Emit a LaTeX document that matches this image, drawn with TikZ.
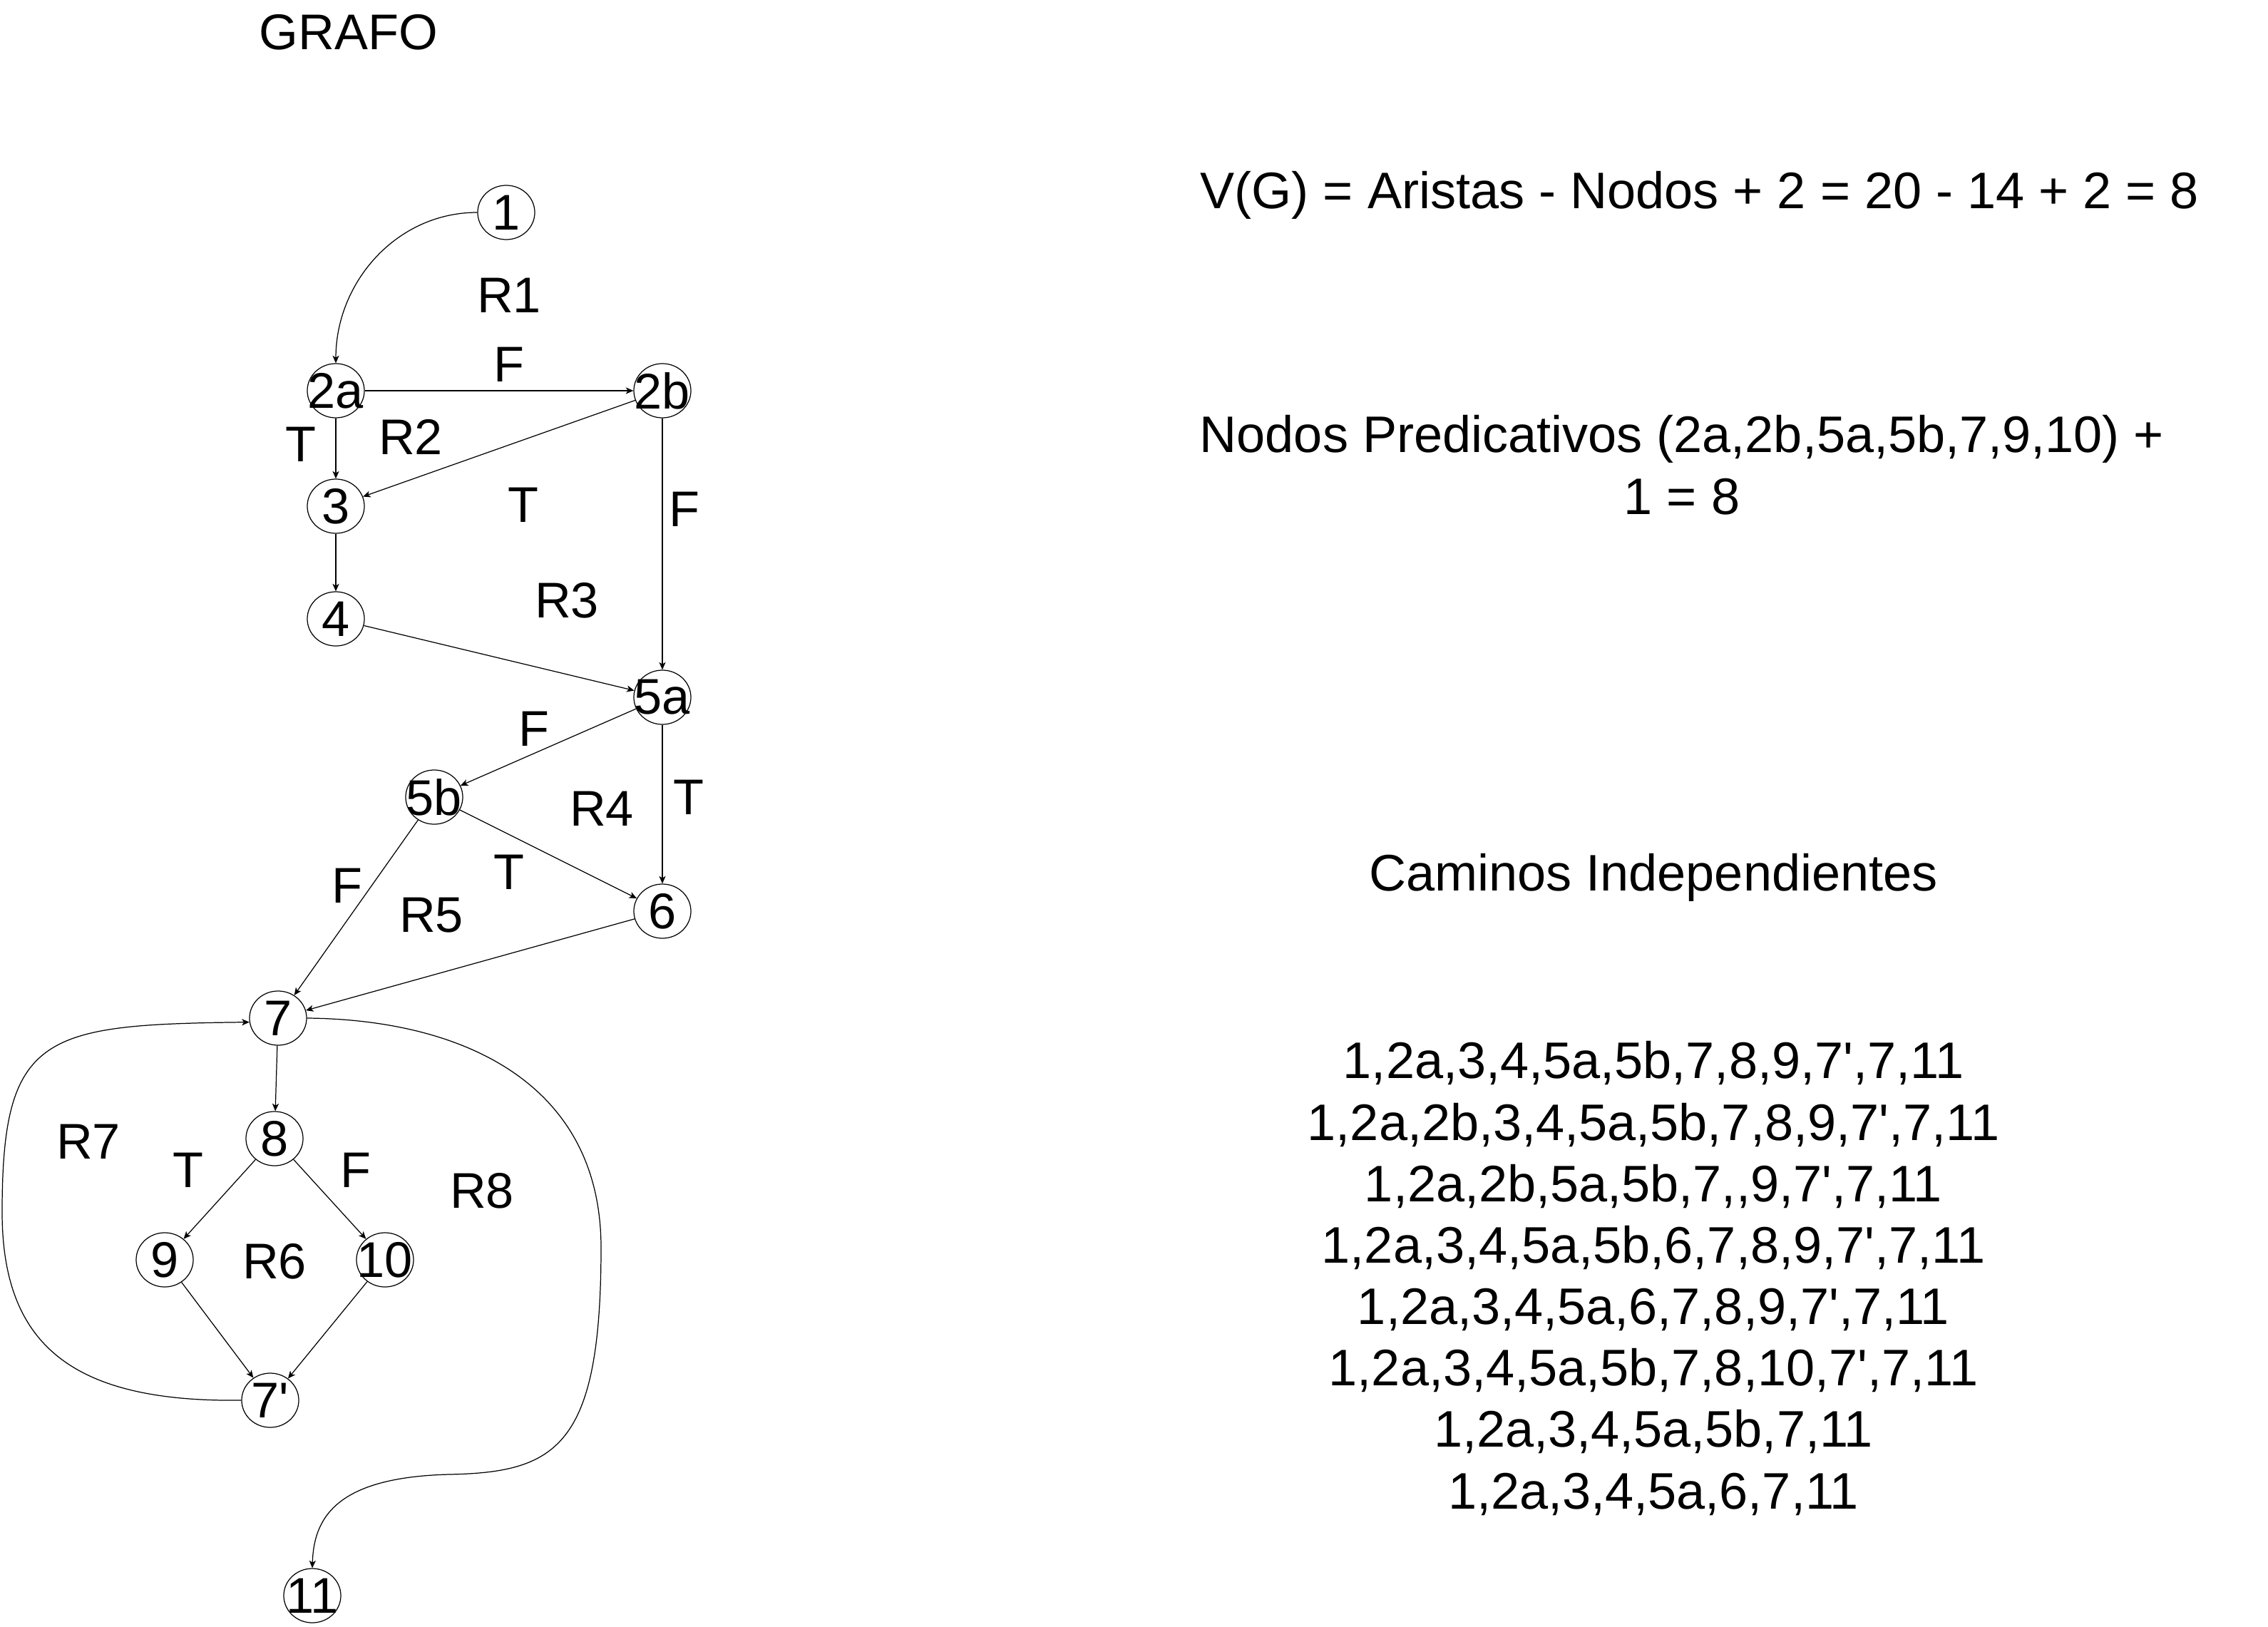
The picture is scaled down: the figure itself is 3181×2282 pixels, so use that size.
\documentclass[tikz,border=0pt]{standalone}
\usepackage{fontspec}
\setmainfont{Liberation Sans}
\usetikzlibrary{arrows.meta,shapes.geometric}
\newcommand\vt[1]{\makebox[0pt]{#1}}
\newcommand\ap{\textquotesingle}
\begin{document}
\begin{tikzpicture}[x=0.01cm,y=-0.01cm,
  vtx/.style={draw, ellipse, minimum width=0.80cm, minimum height=0.76cm, inner sep=0pt, line width=0.35pt, font=\fontsize{20}{24}\selectfont},
  lbl/.style={font=\fontsize{20}{24}\selectfont, inner sep=0pt},
  txt/.style={font=\fontsize{20.5}{24.4}\selectfont, inner sep=0pt, align=center},
  arr/.style={draw, line width=0.35pt, -{Stealth[length=3pt,width=2.6pt,inset=0.8pt]}}
]
\useasboundingbox (0,0) rectangle (3181,2282);

% title
\node[lbl] (title) at (489,45) {GRAFO};

% vertices
\node[vtx] (n1)  at (710,298)  {\vt{1}};
\node[vtx] (n2a) at (471,548)  {\vt{2a}};
\node[vtx] (n2b) at (929,548)  {\vt{2b}};
\node[vtx] (n3)  at (471,710)  {\vt{3}};
\node[vtx] (n4)  at (471,868)  {\vt{4}};
\node[vtx] (n5a) at (929,978)  {\vt{5a}};
\node[vtx] (n5b) at (609,1118) {\vt{5b}};
\node[vtx] (n6)  at (929,1278) {\vt{6}};
\node[vtx] (n7)  at (390,1428) {\vt{7}};
\node[vtx] (n8)  at (385,1597) {\vt{8}};
\node[vtx] (n9)  at (231,1767) {\vt{9}};
\node[vtx] (n10) at (540,1767) {\vt{10}};
\node[vtx] (n7p) at (379,1964) {\vt{7\ap}};
\node[vtx] (n11) at (438,2238) {\vt{11}};

% edges
\draw[arr] (n1.west) to[out=180,in=90] (n2a.north);
\draw[arr] (n2a) -- (n2b);
\draw[arr] (n2a) -- (n3);
\draw[arr] (n2b) -- (n3);
\draw[arr] (n2b) -- (n5a);
\draw[arr] (n3) -- (n4);
\draw[arr] (n4) -- (n5a);
\draw[arr] (n5a) -- (n5b);
\draw[arr] (n5a) -- (n6);
\draw[arr] (n5b) -- (n6);
\draw[arr] (n5b) -- (n7);
\draw[arr] (n6) -- (n7);
\draw[arr] (n7) -- (n8);
\draw[arr] (n8) -- (n9);
\draw[arr] (n8) -- (n10);
\draw[arr] (n9) -- (n7p);
\draw[arr] (n10) -- (n7p);
\draw[arr] (n7p.west) .. controls (102,1967) and (3,1887) .. (3,1700)
  .. controls (3,1450) and (60,1437) .. (n7.188);
\draw[arr] (n7.east) .. controls (650,1430) and (843,1520) .. (843,1750)
  .. controls (843,2030) and (780,2065) .. (630,2068)
  .. controls (470,2072) and (440,2130) .. (n11.north);

% edge and region labels
\node[lbl] (r1) at (714,414) {R1};
\node[lbl] (f1) at (714,511) {F};
\node[lbl] (t1) at (422,623) {T};
\node[lbl] (r2) at (576,613) {R2};
\node[lbl] (t2) at (734,708) {T};
\node[lbl] (f2) at (960,714) {F};
\node[lbl] (r3) at (795,842) {R3};
\node[lbl] (f3) at (749,1022) {F};
\node[lbl] (t3) at (966,1118) {T};
\node[lbl] (r4) at (844,1134) {R4};
\node[lbl] (t4) at (714,1223) {T};
\node[lbl] (f4) at (487,1242) {F};
\node[lbl] (r5) at (605,1284) {R5};
\node[lbl] (r7) at (124,1601) {R7};
\node[lbl] (t5) at (264,1641) {T};
\node[lbl] (f5) at (499,1641) {F};
\node[lbl] (r8) at (676,1670) {R8};
\node[lbl] (r6) at (385,1769) {R6};

% right-hand texts
\node[txt] (vg) at (2384,274) {V(G) = Aristas - Nodos + 2 = 20 - 14 + 2 = 8};
\node[txt] (np) at (2359,652) {Nodos Predicativos (2a,2b,5a,5b,7,9,10) +\\[0.2pt]1 = 8};
\node[txt] (ci) at (2319,1231) {Caminos Independientes};
\node[txt, font=\fontsize{20.5}{24.5}\selectfont] (paths) at (2319,1793) {%
1,2a,3,4,5a,5b,7,8,9,7\ap,7,11\\
1,2a,2b,3,4,5a,5b,7,8,9,7\ap,7,11\\
1,2a,2b,5a,5b,7,{},9,7\ap,7,11\\
1,2a,3,4,5a,5b,6,7,8,9,7\ap,7,11\\
1,2a,3,4,5a,6,7,8,9,7\ap,7,11\\
1,2a,3,4,5a,5b,7,8,10,7\ap,7,11\\
1,2a,3,4,5a,5b,7,11\\
1,2a,3,4,5a,6,7,11};
\end{tikzpicture}
\end{document}
